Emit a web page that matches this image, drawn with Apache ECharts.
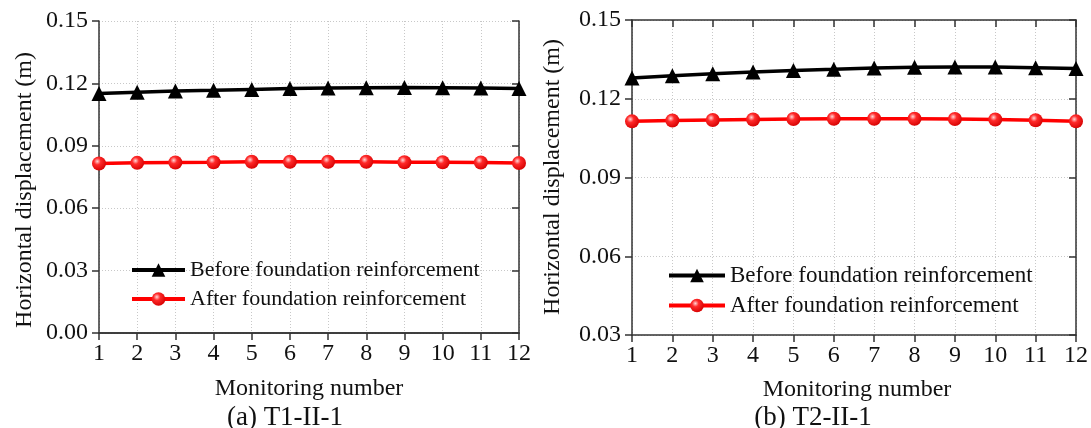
<!DOCTYPE html>
<html>
<head>
<meta charset="utf-8">
<script src="https://cdn.jsdelivr.net/npm/echarts@6/dist/echarts.min.js"></script>
<style>
  html, body { margin: 0; padding: 0; background: #fff; }
  #chart { width: 1091px; height: 428px; }
</style>
</head>
<body>
<div id="chart"></div>
<script>
// Monitoring points along each pile row
const categories = ['1', '2', '3', '4', '5', '6', '7', '8', '9', '10', '11', '12'];

// (a) T1-II-1 horizontal displacement (m)
const beforeA = [0.1152, 0.1158, 0.1164, 0.1167, 0.1171, 0.1175, 0.1178, 0.1179, 0.1180, 0.1179, 0.1178, 0.1176];
const afterA  = [0.0815, 0.0818, 0.0820, 0.0821, 0.0823, 0.0823, 0.0823, 0.0823, 0.0821, 0.0821, 0.0820, 0.0817];

// (b) T2-II-1 horizontal displacement (m)
const beforeB = [0.1279, 0.1288, 0.1295, 0.1302, 0.1308, 0.1312, 0.1317, 0.1320, 0.1321, 0.1321, 0.1318, 0.1315];
const afterB  = [0.1114, 0.1117, 0.1119, 0.1121, 0.1123, 0.1124, 0.1124, 0.1124, 0.1123, 0.1121, 0.1118, 0.1114];

const seriesNames = ['Before foundation reinforcement', 'After foundation reinforcement'];
const panelTitles = ['(a) T1-II-1', '(b) T2-II-1'];
const xTitle = 'Monitoring number';
const yTitle = 'Horizontal displacement (m)';

const FONT = "'Liberation Serif', 'Times New Roman', serif";
const AXIS_COLOR = '#333';

// shaded red ball for the "after" markers
const ball = {
  type: 'radial', x: 0.38, y: 0.35, r: 0.7,
  colorStops: [
    { offset: 0, color: '#ffd6d6' },
    { offset: 0.35, color: '#ff2a2a' },
    { offset: 1, color: '#d40000' }
  ]
};

const chart = echarts.init(document.getElementById('chart'), null, { renderer: 'canvas' });

const grids = [
  { left: 99, right: 1091 - 519, top: 21, bottom: 428 - 333 },
  { left: 632, right: 1091 - 1078, top: 20, bottom: 428 - 335 }
];

function bottomAxis(gi) {
  return {
    type: 'category', gridIndex: gi, data: categories, boundaryGap: false,
    axisLine: { lineStyle: { color: AXIS_COLOR, width: 1.5 } },
    axisTick: { inside: false, length: 7, alignWithLabel: true, lineStyle: { color: AXIS_COLOR, width: 1.5 } },
    axisLabel: { color: '#111', fontFamily: FONT, fontSize: 24, margin: 9 },
    splitLine: { show: true, lineStyle: { color: '#c8c8c8', type: [1, 2], width: 1 } }
  };
}
function topAxis(gi) {
  return {
    type: 'category', gridIndex: gi, data: categories, boundaryGap: false, position: 'top',
    axisLine: { lineStyle: { color: AXIS_COLOR, width: 1.5 } },
    axisTick: { inside: true, length: 7, alignWithLabel: true, lineStyle: { color: AXIS_COLOR, width: 1.5 } },
    axisLabel: { show: false },
    splitLine: { show: false }
  };
}
function leftAxis(gi, min) {
  return {
    type: 'value', gridIndex: gi, min: min, max: 0.15, interval: 0.03,
    axisLine: { show: true, lineStyle: { color: AXIS_COLOR, width: 1.5 } },
    axisTick: { show: true, inside: false, length: 7, lineStyle: { color: AXIS_COLOR, width: 1.5 } },
    axisLabel: { color: '#111', fontFamily: FONT, fontSize: 24, margin: 11, formatter: v => v.toFixed(2) },
    splitLine: { show: true, lineStyle: { color: '#c8c8c8', type: [1, 2], width: 1 } }
  };
}
function rightAxis(gi, min) {
  return {
    type: 'value', gridIndex: gi, min: min, max: 0.15, interval: 0.03, position: 'right',
    axisLine: { show: true, lineStyle: { color: AXIS_COLOR, width: 1.5 } },
    axisTick: { show: true, inside: true, length: 7, lineStyle: { color: AXIS_COLOR, width: 1.5 } },
    axisLabel: { show: false },
    splitLine: { show: false }
  };
}

function beforeSeries(xi, yi, data) {
  return {
    name: seriesNames[0], type: 'line', xAxisIndex: xi, yAxisIndex: yi, data: data,
    symbol: 'triangle', symbolSize: 15, showAllSymbol: true,
    lineStyle: { color: '#000', width: 3.5 },
    itemStyle: { color: '#000' },
    z: 3
  };
}
function afterSeries(xi, yi, data) {
  return {
    name: seriesNames[1], type: 'line', xAxisIndex: xi, yAxisIndex: yi, data: data,
    symbol: 'circle', symbolSize: 14, showAllSymbol: true,
    lineStyle: { color: '#ff0000', width: 3.5 },
    itemStyle: { color: ball },
    z: 3
  };
}

function legendAt(left, top, fontSize, gap, width) {
  return {
    orient: 'vertical', left: left, top: top, itemGap: gap,
    itemWidth: width, itemHeight: 17,
    data: seriesNames,
    lineStyle: { width: 4 },
    textStyle: { fontFamily: FONT, fontSize: fontSize, color: '#111' },
    selectedMode: false
  };
}

function caption(text, x, y, size, rotate) {
  return {
    type: 'text', x: x, y: y, rotation: rotate ? Math.PI / 2 : 0,
    style: { text: text, fontFamily: FONT, fontSize: size, fill: '#111', align: 'center', verticalAlign: 'middle' }
  };
}

chart.setOption({
  animation: false,
  backgroundColor: '#fff',
  grid: grids,
  xAxis: [bottomAxis(0), topAxis(0), bottomAxis(1), topAxis(1)],
  yAxis: [leftAxis(0, 0), rightAxis(0, 0), leftAxis(1, 0.03), rightAxis(1, 0.03)],
  legend: [
    legendAt(125, 254, 22, 7, 53),
    legendAt(662, 259, 23, 7, 56)
  ],
  series: [
    beforeSeries(0, 0, beforeA),
    afterSeries(0, 0, afterA),
    beforeSeries(2, 2, beforeB),
    afterSeries(2, 2, afterB)
  ],
  graphic: [
    caption(yTitle, 25, 190, 24, true),
    caption(yTitle, 553, 177, 24, true),
    caption(xTitle, 309, 389, 24, false),
    caption(xTitle, 857, 390, 24, false),
    caption(panelTitles[0], 285, 418, 27, false),
    caption(panelTitles[1], 813, 418, 27, false)
  ]
});
</script>
</body>
</html>
